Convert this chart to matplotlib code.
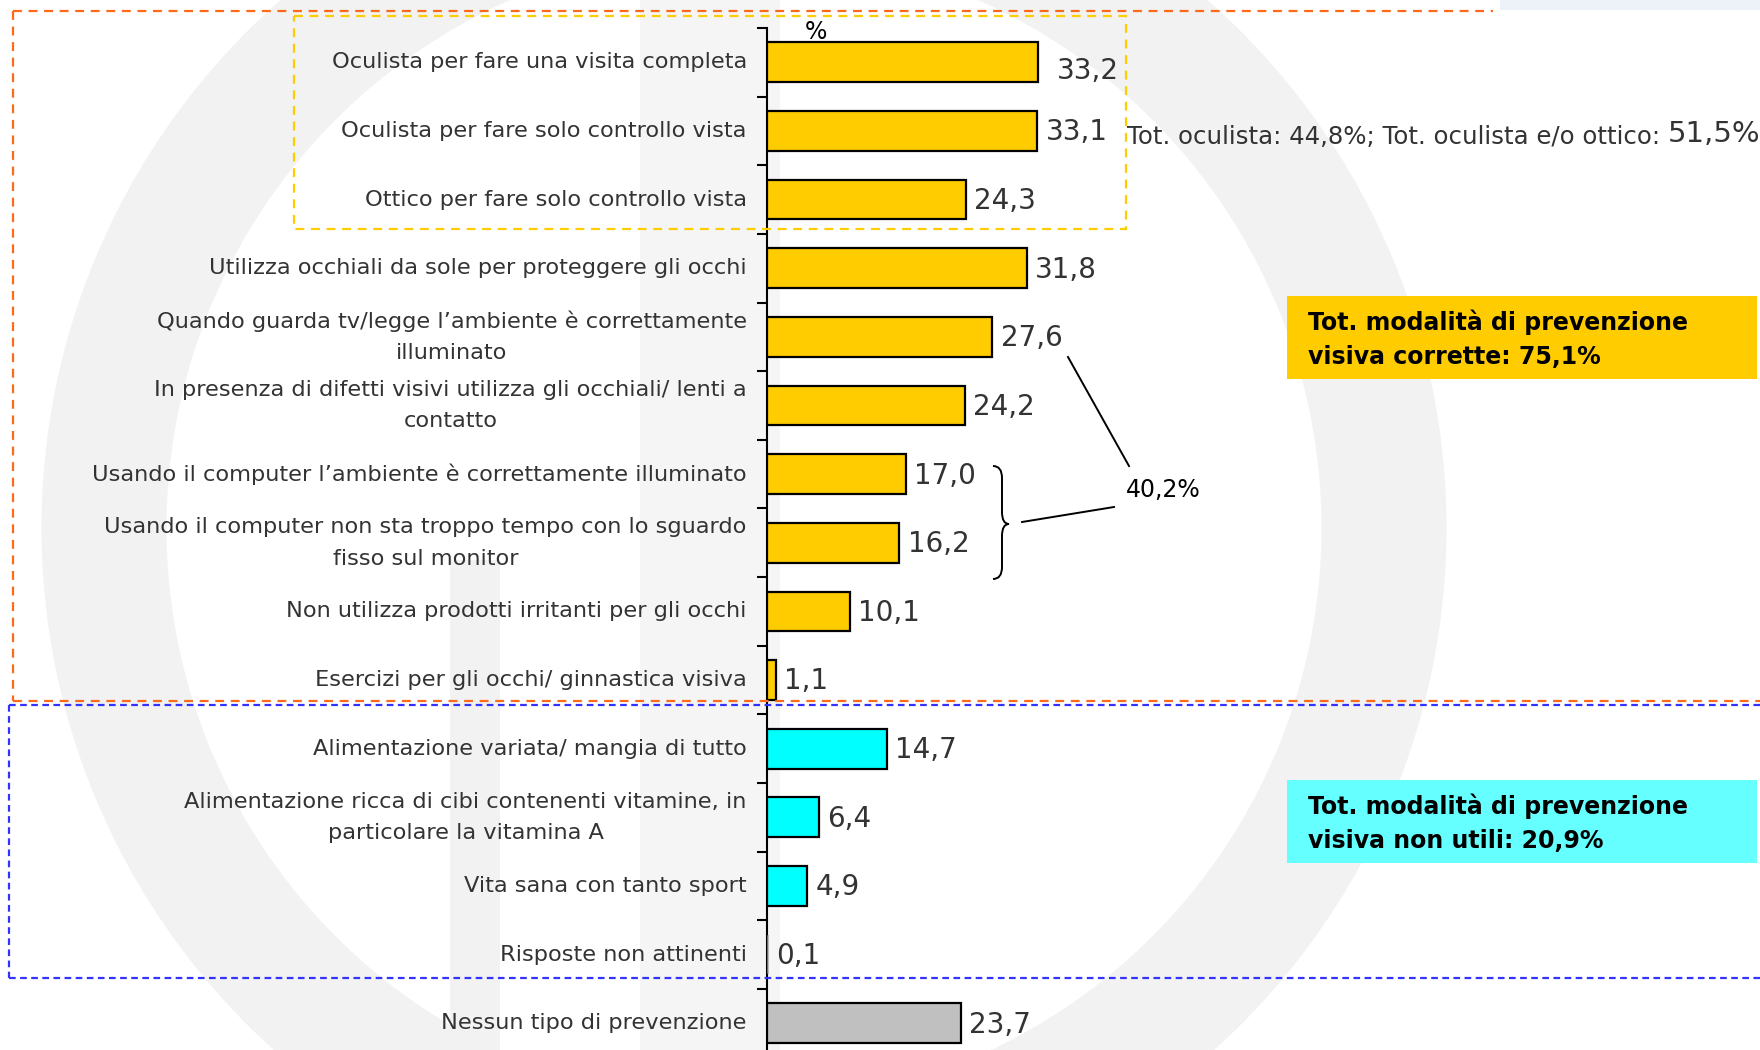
import matplotlib.pyplot as plt
import numpy as np
from matplotlib.patches import Rectangle, Circle, PathPatch
from matplotlib.path import Path

# dati
categorie = [
    "Oculista per fare una visita completa",
    "Oculista per fare solo controllo vista",
    "Ottico per fare solo controllo vista",
    "Utilizza occhiali da sole per proteggere gli occhi",
    "Quando guarda tv/legge l\u2019ambiente è correttamente\nilluminato",
    "In presenza di difetti visivi utilizza gli occhiali/ lenti a\ncontatto",
    "Usando il computer l\u2019ambiente è correttamente illuminato",
    "Usando il computer non sta troppo tempo con lo sguardo\nfisso sul monitor",
    "Non utilizza prodotti irritanti per gli occhi",
    "Esercizi per gli occhi/ ginnastica visiva",
    "Alimentazione variata/ mangia di tutto",
    "Alimentazione ricca di cibi contenenti vitamine, in\nparticolare la vitamina A",
    "Vita sana con tanto sport",
    "Risposte non attinenti",
    "Nessun tipo di prevenzione",
]
valori = [33.2, 33.1, 24.3, 31.8, 27.6, 24.2, 17.0, 16.2, 10.1, 1.1,
          14.7, 6.4, 4.9, 0.1, 23.7]
gruppi = ["corrette"] * 10 + ["non utili"] * 4 + ["nessuna"]
colori_gruppo = {"corrette": "#FFCC00", "non utili": "#00FFFF", "nessuna": "#C0C0C0"}

tot_oculista = "Tot. oculista: 44,8%; Tot. oculista e/o ottico: "
tot_ottico = "51,5%"
box_corrette = "Tot. modalità di prevenzione\nvisiva corrette: 75,1%"
box_non_utili = "Tot. modalità di prevenzione\nvisiva non utili: 20,9%"
nota_pc = "40,2%"

W, H = 1760, 1050
grigio = "#333333"

fig = plt.figure(figsize=(W / 100, H / 100), dpi=100)

# sfondo con filigrana chiara
bg = fig.add_axes([0, 0, 1, 1], zorder=0)
bg.set_xlim(0, W)
bg.set_ylim(H, 0)
bg.axis("off")
wm = "#f1f2f1"
bg.add_patch(Circle((744, 528), 640, fill=False, edgecolor=wm, linewidth=90))
bg.add_patch(Rectangle((450, 560), 50, 490, color=wm, lw=0))
bg.add_patch(Rectangle((640, 0), 140, 1050, color="#f4f5f4", lw=0))
bg.add_patch(Rectangle((1500, 0), 260, 10, color="#edf1f8", lw=0))

# grafico a barre
x0 = 767
px_unit = 8.17
ax = fig.add_axes([x0 / W, 0, 1 - x0 / W, (H - 28) / H], zorder=2)
ax.patch.set_alpha(0)
y = np.arange(len(valori))
bordi = [1.6 if v >= 0.5 else 0.3 for v in valori]
ax.barh(y, valori, height=0.58, color=[colori_gruppo[g] for g in gruppi],
        edgecolor="black", linewidth=bordi, zorder=3)
ax.set_ylim(len(valori) - 0.61, -0.5)
ax.set_xlim(0, (W - x0) / px_unit)
for s in ["top", "right", "bottom"]:
    ax.spines[s].set_visible(False)
ax.spines["left"].set_linewidth(1.5)
ax.set_xticks([])
ax.set_yticks(np.arange(-0.5, len(valori) - 0.5, 1))
ax.set_yticklabels([])
ax.tick_params(axis="y", which="major", length=7, width=1.5, direction="out")
ax.set_yticks(y, minor=True)
ax.set_yticklabels(categorie, minor=True, fontsize=16.2, color=grigio,
                   linespacing=1.72)
ax.tick_params(axis="y", which="minor", length=0, pad=14.5)
for lab in ax.get_yticklabels(minor=True):
    lab.set_multialignment("center")
    lab.set_verticalalignment("center")

for i, v in enumerate(valori):
    dx = 2.3 if i == 0 else 1.0
    dy = 0.12 if i == 0 else 0.02
    ax.text(v + dx, i + dy, f"{v:.1f}".replace(".", ","), va="center", ha="left",
            fontsize=20, color=grigio)
ax.text(6.0, -0.44, "%", fontsize=17, color="black", ha="center", va="center")

# livello sovrapposto: riquadri tratteggiati e note
ov = fig.add_axes([0, 0, 1, 1], zorder=3)
ov.set_xlim(0, W)
ov.set_ylim(H, 0)
ov.axis("off")
ov.patch.set_alpha(0)

arancio = "#FF6A1A"
blu = "#3333FF"
ov.plot([13, 1493], [11, 11], color=arancio, lw=1.6, ls=(0, (4, 3)))
ov.plot([13, 13], [11, 701], color=arancio, lw=1.6, ls=(0, (4, 3)))
ov.plot([13, W], [701, 701], color=arancio, lw=1.6, ls=(0, (4, 3)))
ov.plot([9, W], [705, 705], color=blu, lw=1.6, ls=(0, (3, 2)))
ov.plot([9, 9], [705, 978], color=blu, lw=1.6, ls=(0, (3, 2)))
ov.plot([9, W], [978, 978], color=blu, lw=1.6, ls=(0, (3, 2)))
ov.add_patch(Rectangle((294, 16), 832, 213, fill=False, edgecolor="#FFCC00",
                       lw=1.6, ls=(0, (4, 3))))

# totale oculista / ottico
t = ov.text(1127, 137, tot_oculista, fontsize=17.6, color=grigio, va="center", ha="left")
fig.canvas.draw()
bb = t.get_window_extent()
ov.text(1127 + bb.width, 134, tot_ottico, fontsize=21, color=grigio,
        va="center", ha="left")

# riquadri dei totali
ov.add_patch(Rectangle((1287, 296), 470, 83, color="#FFCC00", lw=0))
ov.text(1308, 339, box_corrette, fontsize=17, fontweight="bold", color="black",
        va="center", ha="left", linespacing=1.55)
ov.add_patch(Rectangle((1287, 780), 470, 83, color="#66FFFF", lw=0))
ov.text(1308, 823, box_non_utili, fontsize=17, fontweight="bold", color="black",
        va="center", ha="left", linespacing=1.55)

# graffa e linee verso 40,2%
verts = [(993, 466), (1002, 466), (1002, 478),
         (1002, 512), (1002, 524), (1009, 524),
         (1002, 524), (1002, 536),
         (1002, 567), (1002, 579), (993, 579)]
codes = [Path.MOVETO, Path.CURVE3, Path.CURVE3,
         Path.LINETO, Path.CURVE3, Path.CURVE3,
         Path.CURVE3, Path.CURVE3,
         Path.LINETO, Path.CURVE3, Path.CURVE3]
ov.add_patch(PathPatch(Path(verts, codes), fill=False, edgecolor="black", lw=1.4))
ov.plot([1022, 1114], [522, 507], color="black", lw=1.4)
ov.plot([1068, 1129], [357, 466], color="black", lw=1.4)
ov.text(1126, 490, nota_pc, fontsize=17, color="black", va="center", ha="left")

fig.savefig("out.png", dpi=100, facecolor="white")
